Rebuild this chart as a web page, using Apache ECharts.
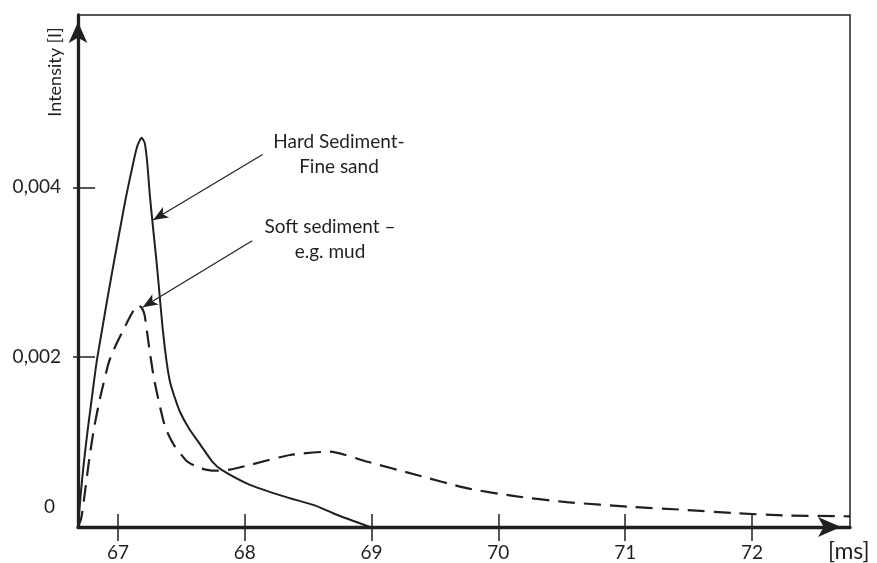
<!DOCTYPE html>
<html>
<head>
<meta charset="utf-8">
<script src="https://cdn.jsdelivr.net/npm/echarts@6/dist/echarts.min.js"></script>
<style>
  html, body { margin: 0; padding: 0; background: #fff; }
  #chart { width: 877px; height: 563px; }
</style>
</head>
<body>
<div id="chart"></div>
<script>
  // time axis [ms] and intensity values
  var hardTime = [66.685, 66.706, 66.732, 66.763, 66.797, 66.832, 66.876, 66.921, 66.968, 67.016, 67.065, 67.121, 67.152, 67.187, 67.211, 67.231, 67.252, 67.278, 67.305, 67.329, 67.353, 67.384, 67.410, 67.442, 67.489, 67.560, 67.652, 67.744, 67.818, 68.041, 68.301, 68.567, 68.725, 68.987];
  var hardIntensity = [0, 0.000379, 0.000771, 0.001161, 0.001552, 0.001944, 0.002334, 0.002725, 0.003117, 0.003507, 0.003898, 0.004290, 0.004484, 0.004583, 0.004524, 0.004290, 0.003898, 0.003507, 0.003117, 0.002725, 0.002334, 0.001944, 0.001713, 0.001552, 0.001357, 0.001161, 0.000965, 0.000771, 0.000673, 0.000497, 0.000364, 0.000246, 0.000144, 0];

  var softTime = [66.685, 66.711, 66.737, 66.771, 66.811, 66.864, 66.929, 66.982, 67.047, 67.100, 67.140, 67.166, 67.192, 67.211, 67.244, 67.284, 67.341, 67.376, 67.442, 67.547, 67.652, 67.757, 67.883, 68.041, 68.356, 68.672, 68.961, 69.356, 69.750, 70.144, 70.538, 71.061, 71.456, 71.850, 72.244, 72.773];
  var softIntensity = [0, 0.000106, 0.000379, 0.000771, 0.001161, 0.001552, 0.001944, 0.002138, 0.002334, 0.002490, 0.002589, 0.002608, 0.002569, 0.002490, 0.002138, 0.001748, 0.001357, 0.001161, 0.000965, 0.000771, 0.000692, 0.000663, 0.000675, 0.000731, 0.000848, 0.000888, 0.000771, 0.000613, 0.000457, 0.000360, 0.000293, 0.000235, 0.000203, 0.000164, 0.000137, 0.000126];

  var xTicks = [67, 68, 69, 70, 71, 72];
  var yTicks = [0, 0.002, 0.004];

  // annotation texts and arrows (data coordinates)
  var noteTexts = ['Hard Sediment-\nFine sand', 'Soft sediment –\ne.g. mud'];
  var noteAnchors = [[68.743, 0.004387], [68.672, 0.003390]];
  var arrowFrom = [[68.141, 0.004387], [68.059, 0.003370]];
  var arrowTo = [[67.278, 0.003616], [67.195, 0.002589]];

  var ink = '#231f20';
  var font = 'Lato';

  function pairs(xs, ys) {
    var out = [];
    for (var i = 0; i < xs.length; i++) out.push([xs[i], ys[i]]);
    return out;
  }

  var myChart = echarts.init(document.getElementById('chart'));
  var option = {
    animation: false,
    textStyle: { fontFamily: font, color: ink },
    grid: {
      left: 78, right: 27, top: 15, bottom: 34,
      show: true,
      borderColor: ink,
      borderWidth: 1.5
    },
    graphic: [{
      type: 'text',
      x: 55,
      y: 72,
      rotation: Math.PI / 2,
      style: {
        text: 'Intensity [I]',
        fill: ink,
        font: '18px Lato',
        textAlign: 'center',
        textVerticalAlign: 'middle'
      }
    }],
    xAxis: [
      {
        type: 'value',
        min: 66.685,
        max: 72.773,
        position: 'bottom',
        name: '[ms]',
        nameLocation: 'end',
        nameGap: -22,
        nameTextStyle: { fontSize: 23, color: ink, verticalAlign: 'top', padding: [13, 0, 0, 0] },
        axisLine: {
          show: true,
          symbol: ['none', 'arrow'],
          symbolSize: [15, 23],
          symbolOffset: [0, -9],
          lineStyle: { color: ink, width: 3.3 }
        },
        axisTick: { show: true, inside: true, length: 13, customValues: xTicks, lineStyle: { color: ink, width: 1.5 } },
        axisLabel: { customValues: xTicks, fontSize: 19, color: ink, margin: 16 },
        splitLine: { show: false }
      },
      {
        type: 'value',
        min: 66.685,
        max: 72.773,
        position: 'top',
        axisLine: { show: true, lineStyle: { color: ink, width: 1.5 } },
        axisTick: { show: true, inside: true, length: 14, customValues: xTicks, lineStyle: { color: ink, width: 1.5 } },
        axisLabel: { show: false },
        splitLine: { show: false }
      }
    ],
    yAxis: [
      {
        type: 'value',
        min: 0,
        max: 0.00603,
        position: 'left',
        axisLine: {
          show: true,
          symbol: ['none', 'arrow'],
          symbolSize: [14, 21],
          symbolOffset: [0, -7],
          lineStyle: { color: ink, width: 3.3 }
        },
        axisTick: { show: true, inside: true, length: 17, customValues: yTicks, lineStyle: { color: ink, width: 1.5 } },
        axisLabel: {
          customValues: yTicks,
          fontSize: 19,
          color: ink,
          margin: 17,
          formatter: function (v) {
            if (v === 0) return '{z|0}';
            return v.toFixed(3).replace('.', ',');
          },
          rich: {
            z: { fontSize: 19, fontFamily: font, color: ink, padding: [0, 6, 40, 0] }
          }
        },
        splitLine: { show: false }
      },
      {
        type: 'value',
        min: 0,
        max: 0.00603,
        position: 'left',
        axisLine: { show: false },
        axisTick: { show: true, inside: false, length: 5, customValues: [0.002, 0.004], lineStyle: { color: ink, width: 1.5 } },
        axisLabel: { show: false },
        splitLine: { show: false }
      }
    ],
    series: [
      {
        name: 'Hard Sediment',
        type: 'line',
        data: pairs(hardTime, hardIntensity),
        smooth: 0.2,
        showSymbol: false,
        lineStyle: { color: ink, width: 2 },
        markLine: {
          silent: true,
          symbol: ['none', 'arrow'],
          symbolSize: [9, 15],
          label: { show: false },
          lineStyle: { color: ink, width: 1.2, type: 'solid' },
          data: arrowFrom.map(function (p, i) {
            return [{ coord: p }, { coord: arrowTo[i] }];
          })
        },
        markPoint: {
          silent: true,
          symbolSize: 0,
          label: {
            show: true,
            position: 'inside',
            fontSize: 19,
            lineHeight: 25,
            align: 'center',
            color: ink,
            fontFamily: font
          },
          data: noteTexts.map(function (t, i) {
            return { coord: noteAnchors[i], value: t, label: { formatter: t } };
          })
        }
      },
      {
        name: 'Soft sediment',
        type: 'line',
        data: pairs(softTime, softIntensity),
        smooth: 0.2,
        showSymbol: false,
        lineStyle: { color: ink, width: 2.2, type: [17, 9] }
      }
    ]
  };
  myChart.setOption(option, true);
</script>
</body>
</html>
